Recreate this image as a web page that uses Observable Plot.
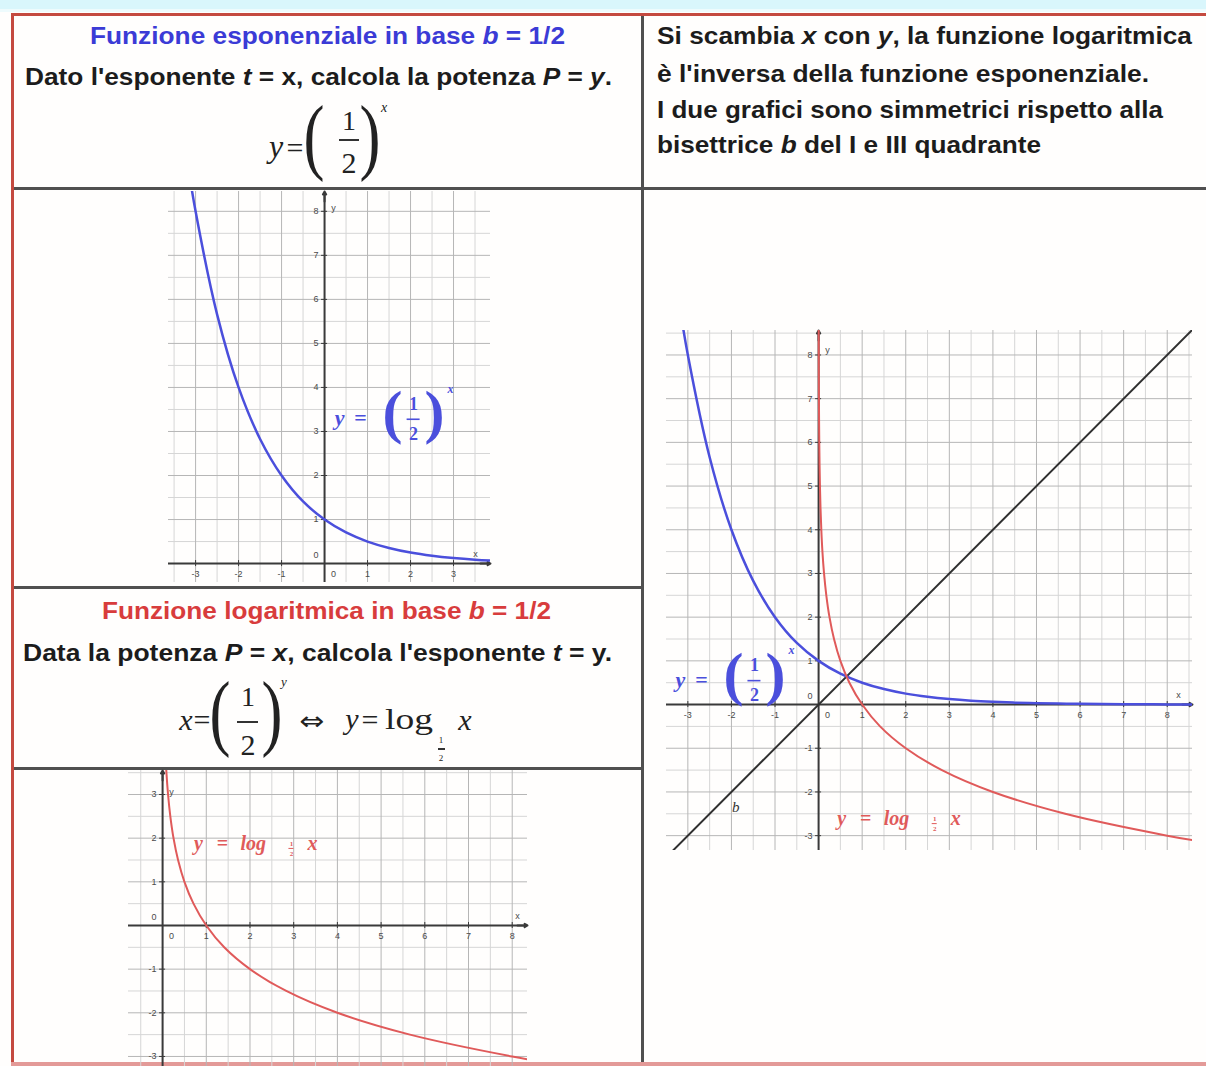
<!DOCTYPE html>
<html>
<head>
<meta charset="utf-8">
<script src="https://cdn.jsdelivr.net/npm/d3@7"></script>
<script src="https://cdn.jsdelivr.net/npm/@observablehq/plot@0.6"></script>
<style>
  body { margin: 0; background: #ffffff; }
  #page { position: relative; width: 1206px; height: 1066px; overflow: hidden; background: #fffefd;
          font-family: "Liberation Sans", Arial, sans-serif; }
  #page svg { position: absolute; }
</style>
</head>
<body>
<div id="page"></div>
<script>
// ---- Data: exponent t and power P = (1/2)^t ----
const exponentT = [-3.2, -3, -2.5, -2, -1.5, -1, -0.5, 0, 0.5, 1, 1.5, 2, 2.5, 3, 3.5, 4, 4.5, 5, 5.5, 6, 6.5, 7, 7.5, 8, 8.6];
const powerP    = [9.19, 8, 5.66, 4, 2.83, 2, 1.41, 1, 0.707, 0.5, 0.354, 0.25, 0.177, 0.125, 0.088, 0.0625, 0.044, 0.031, 0.022, 0.0156, 0.011, 0.0078, 0.0055, 0.0039, 0.0026];
// bisector of the I and III quadrant (y = x)
const bisectorV = [-3.6, 8.7];

// tick labels of the three Cartesian planes
const expTicksX  = [-3, -2, -1, 1, 2, 3];
const expTicksY  = [1, 2, 3, 4, 5, 6, 7, 8];
const logTicksX  = [1, 2, 3, 4, 5, 6, 7, 8];
const logTicksY  = [-3, -2, -1, 1, 2, 3];
const bothTicksX = [-3, -2, -1, 1, 2, 3, 4, 5, 6, 7, 8];
const bothTicksY = [-3, -2, -1, 1, 2, 3, 4, 5, 6, 7, 8];

const table = exponentT.map((t, i) => ({t, P: powerP[i]}));
const bisector = bisectorV.map(v => ({v}));

const BLUE = "#4b4fdc", RED = "#e05a5a", INK = "#1c1c1c";
const SERIF = "'Liberation Serif', 'Times New Roman', serif";
const page = document.getElementById("page");

// ---- table frame ----
function box(x, y, w, h, color) {
  const d = document.createElement("div");
  d.style.cssText = `position:absolute;left:${x}px;top:${y}px;width:${w}px;height:${h}px;background:${color}`;
  page.appendChild(d);
}
box(0, 0, 1206, 9, "#d9f6fc");
box(0, 9, 1206, 3, "#eefbfd");
box(11, 13, 1195, 3, "#c44a40");
box(11, 13, 3, 1053, "#c44a40");
box(11, 1062, 1195, 4, "#e39a98");
box(641, 16, 3, 1046, "#505050");
box(14, 187, 1192, 3, "#505050");
box(14, 586, 627, 3, "#505050");
box(14, 767, 627, 3, "#505050");

// ---- bold text lines, stretched to their column width ----
function line(html, x0, x1, cy, color, size = 24) {
  const d = document.createElement("div");
  d.innerHTML = html;
  d.style.cssText = `position:absolute;left:${x0}px;top:0px;font-weight:bold;font-size:${size}px;line-height:1;white-space:nowrap;color:${color};transform-origin:0 50%;`;
  page.appendChild(d);
  const r = d.getBoundingClientRect();
  d.style.top = (cy - r.height / 2) + "px";
  d.style.transform = `scaleX(${(x1 - x0) / r.width})`;
}
line("Funzione esponenziale in base <i>b</i> = 1/2", 90, 565, 36, "#3b3bd6");
line("Dato l'esponente <i>t</i> = x, calcola la potenza <i>P</i> = <i>y</i>.", 25, 612, 77, INK);
line("Funzione logaritmica in base <i>b</i> = 1/2", 102, 551, 611, "#d83c3c");
line("Data la potenza <i>P</i> = <i>x</i>, calcola l'esponente <i>t</i> = y.", 23, 612, 653, INK);
line("Si scambia <i>x</i> con <i>y</i>, la funzione logaritmica", 657, 1192, 36, INK);
line("è l'inversa della funzione esponenziale.", 657, 1149, 74, INK);
line("I due grafici sono simmetrici rispetto alla", 657, 1163, 110, INK);
line("bisettrice <i>b</i> del I e III quadrante", 657, 1041, 145, INK);

// ---- typeset formulas (serif glyphs placed by their visual centre) ----
function glyph(txt, cx, cy, size, opt = {}) {
  const s = document.createElement("span");
  s.textContent = txt;
  const k = opt.k || 0;
  s.style.cssText = `position:absolute;left:${cx}px;top:${cy - k * size}px;font-family:${opt.font || SERIF};font-size:${size}px;line-height:1;white-space:nowrap;color:${opt.color || "#222"};font-style:${opt.it ? "italic" : "normal"};transform:translate(-50%,-50%)${opt.sx ? ` scaleX(${opt.sx})` : ""};`;
  page.appendChild(s);
}
function fracBar(x0, x1, y) { box(x0, y - 0.75, x1 - x0, 1.5, "#333"); }

// y = (1/2)^x
glyph("y", 276, 152, 32, {it: true, k: 0.2});
glyph("=", 295, 150, 30, {k: 0.08});
glyph("(", 314, 144, 84, {k: 0.1, sx: 0.75});
glyph("1", 349, 121, 28);
fracBar(339, 359, 140);
glyph("2", 349, 163, 30);
glyph(")", 370, 144, 84, {k: 0.1, sx: 0.75});
glyph("x", 384, 109, 14, {it: true, k: 0.1});

// x = (1/2)^y  <=>  y = log_{1/2} x
glyph("x", 186, 723, 30, {it: true, k: 0.1});
glyph("=", 202, 722, 30, {k: 0.08});
glyph("(", 220, 720, 84, {k: 0.1, sx: 0.75});
glyph("1", 248, 697, 28);
fracBar(237, 258, 722);
glyph("2", 248, 745, 30);
glyph(")", 272, 720, 84, {k: 0.1, sx: 0.75});
glyph("y", 284, 684, 13, {it: true, k: 0.2});
glyph("⇔", 312, 722, 26, {font: "'DejaVu Sans', sans-serif", k: 0.02, sx: 1.15});
glyph("y", 352, 725, 30, {it: true, k: 0.2});
glyph("=", 370, 722, 30, {k: 0.08});
glyph("log", 409, 720, 30, {k: 0.05, sx: 1.25});
glyph("1", 441, 740, 9);
fracBar(438, 445, 749);
glyph("2", 441, 758, 9);
glyph("x", 465, 723, 30, {it: true, k: 0.1});

// ---- Cartesian planes drawn with Plot ----
// a label is a list of glyphs placed around an anchor given in data units;
// fraction bars are short rules, sized in pixels
function labelMarks(anchor, pieces, color) {
  return (px, py) => pieces.map(p => p.bar
    ? Plot.ruleY([anchor], {y: d => d.y - p.dy * py, x1: d => d.x + (p.dx - p.w / 2) * px,
                            x2: d => d.x + (p.dx + p.w / 2) * px, stroke: color, strokeWidth: p.sw || 1.6})
    : Plot.text([anchor], {
        x: "x", y: "y", text: () => p.t, dx: p.dx || 0, dy: p.dy || 0,
        fontSize: p.size, fontStyle: p.it ? "italic" : "normal", fontWeight: "bold", fontFamily: SERIF,
        fill: color, textAnchor: p.anchor || "middle"
      }));
}

function plane(cfg, extra) {
  const {left, top, width, height, xd, yd, xt, yt, xName, yName} = cfg;
  const px = (xd[1] - xd[0]) / width, py = (yd[1] - yd[0]) / height;
  const major = d => d3.range(Math.ceil(d[0]), Math.floor(d[1]) + 1);
  const minor = d => d3.range(Math.ceil(d[0] * 2) / 2, d[1], 0.5).filter(v => Math.abs(v % 1) === 0.5);
  const axis = "#3a3a3a", lab = "#4a4a4a";
  const svg = Plot.plot({
    width, height, margin: 0,
    x: {domain: xd, axis: null},
    y: {domain: yd, axis: null},
    style: {background: "transparent", overflow: "visible", fontFamily: "'Liberation Sans', Arial, sans-serif"},
    marks: [
      Plot.ruleX(minor(xd), {stroke: "#d6d6d6"}),
      Plot.ruleY(minor(yd), {stroke: "#d6d6d6"}),
      Plot.ruleX(major(xd), {stroke: "#b6b6b6"}),
      Plot.ruleY(major(yd), {stroke: "#b6b6b6"}),
      Plot.ruleY([0], {x1: xd[0], x2: xd[1] - 2 * px, stroke: axis, strokeWidth: 2}),
      Plot.ruleX([0], {y1: yd[0], y2: yd[1] - 2 * py, stroke: axis, strokeWidth: 2}),
      Plot.arrow([{a: xd[1] - 10 * px, b: xd[1]}], {x1: "a", x2: "b", y1: () => 0, y2: () => 0, stroke: axis, strokeWidth: 2, headLength: 7}),
      Plot.arrow([{a: yd[1] - 10 * py, b: yd[1]}], {y1: "a", y2: "b", x1: () => 0, x2: () => 0, stroke: axis, strokeWidth: 2, headLength: 7}),
      Plot.ruleX(xt, {y1: -3 * py, y2: 3 * py, stroke: axis}),
      Plot.ruleY(yt, {x1: -3 * px, x2: 3 * px, stroke: axis}),
      Plot.text(xt, {x: d => d, y: () => 0, text: d => String(d), dy: 11, fontSize: 9, fill: lab}),
      Plot.text(yt, {x: () => 0, y: d => d, text: d => String(d), dx: -6, textAnchor: "end", fontSize: 9, fill: lab}),
      Plot.text([0], {x: () => 0, y: () => 0, text: () => "0", dx: -6, dy: -8, textAnchor: "end", fontSize: 9, fill: lab}),
      Plot.text([0], {x: () => 0, y: () => 0, text: () => "0", dx: 9, dy: 11, fontSize: 9, fill: lab}),
      Plot.text([0], {x: () => 0, y: () => yName, text: () => "y", dx: 9, fontSize: 9, fill: lab}),
      Plot.text([0], {x: () => xName, y: () => 0, text: () => "x", dy: -9, fontSize: 9, fill: lab}),
      ...extra(px, py)
    ]
  });
  svg.style.left = left + "px";
  svg.style.top = top + "px";
  page.appendChild(svg);
}

const expCurve = () => Plot.line(table, {x: "t", y: "P", curve: "catmull-rom", stroke: BLUE, strokeWidth: 2.5, clip: true});
const logCurve = () => Plot.line(table, {x: "P", y: "t", curve: "catmull-rom", stroke: RED, strokeWidth: 2, clip: true});

const expLabel = (ax, ay) => labelMarks({x: ax, y: ay}, [
  {t: "y", size: 22, it: true},
  {t: "=", size: 22, dx: 21},
  {t: "(", size: 60, dx: 53, dy: -5},
  {t: "1", size: 18, dx: 74, dy: -14},
  {bar: true, w: 13, dx: 74, dy: 1},
  {t: "2", size: 18, dx: 74, dy: 16},
  {t: ")", size: 60, dx: 95, dy: -5},
  {t: "x", size: 12, it: true, dx: 111, dy: -29}
], BLUE);

const logLabel = (ax, ay) => labelMarks({x: ax, y: ay}, [
  {t: "y", size: 20, it: true},
  {t: "=", size: 20, dx: 24},
  {t: "log", size: 20, it: true, dx: 42, anchor: "start"},
  {t: "1", size: 7, dx: 93, dy: 0},
  {bar: true, w: 5, dx: 93, dy: 5, sw: 1},
  {t: "2", size: 7, dx: 93, dy: 10},
  {t: "x", size: 20, it: true, dx: 114}
], RED);

// exponential, base 1/2
plane({left: 168, top: 191, width: 322, height: 391, xd: [-3.63, 3.86], yd: [-0.43, 8.45],
       xt: expTicksX, yt: expTicksY, xName: 3.51, yName: 8.07},
      (px, py) => [expCurve(), ...expLabel(0.35, 3.3)(px, py)]);

// logarithm, base 1/2
plane({left: 128, top: 770, width: 399, height: 296, xd: [-0.78, 8.35], yd: [-3.23, 3.55],
       xt: logTicksX, yt: logTicksY, xName: 8.12, yName: 3.05},
      (px, py) => [logCurve(), ...logLabel(0.82, 1.88)(px, py)]);

// both curves with the bisector b
plane({left: 666, top: 330, width: 526, height: 520, xd: [-3.49, 8.58], yd: [-3.34, 8.56],
       xt: bothTicksX, yt: bothTicksY, xName: 8.26, yName: 8.1},
      (px, py) => [
        Plot.line(bisector, {x: "v", y: "v", stroke: "#303030", strokeWidth: 2, clip: true}),
        expCurve(), logCurve(),
        ...expLabel(-3.17, 0.57)(px, py),
        ...logLabel(0.53, -2.61)(px, py),
        Plot.text([{x: -1.9, y: -2.36}], {x: "x", y: "y", text: () => "b", fontSize: 15, fontStyle: "italic", fontFamily: SERIF, fill: "#333"})
      ]);
</script>
</body>
</html>
